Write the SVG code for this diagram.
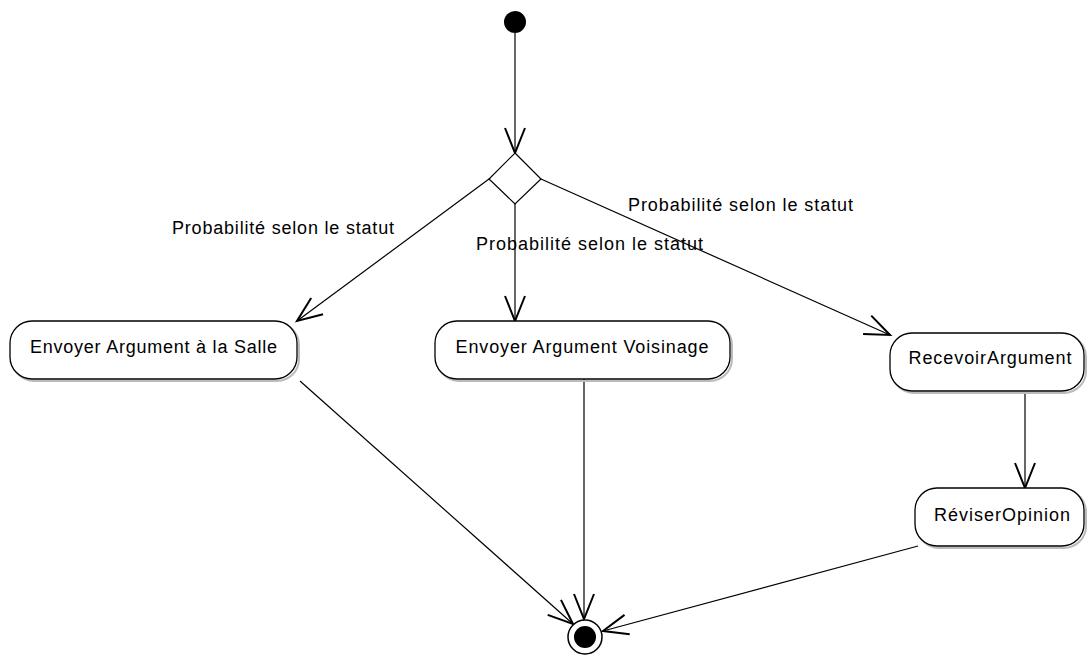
<svg xmlns="http://www.w3.org/2000/svg" width="1088" height="657" viewBox="0 0 1088 657">
<style>
.node{fill:#fff;stroke:#000;stroke-width:1.3}
.shadow{fill:none;stroke:#bbb;stroke-width:2}
.t{font-family:"Liberation Sans",Arial,sans-serif;font-size:18px;fill:#000}
.c{fill:none;stroke:#000;stroke-width:1.2}
</style>
<defs>
<marker id="arr" markerUnits="userSpaceOnUse" markerWidth="30" markerHeight="30" viewBox="-16 -8 18 16" refX="0" refY="0" orient="auto" overflow="visible">
<path d="M-15,-6 L0,0 L-15,6" fill="none" stroke="#000" stroke-width="1.2"/>
</marker>
</defs>
<rect width="1088" height="657" fill="#fff"/>
<g id="connectors">
<line class="c" x1="515" y1="33" x2="515" y2="153" marker-end="url(#arr)"/>
<line class="c" x1="489" y1="179" x2="297" y2="321" marker-end="url(#arr)"/>
<line class="c" x1="515" y1="204" x2="515" y2="321" marker-end="url(#arr)"/>
<line class="c" x1="541" y1="179" x2="890" y2="335" marker-end="url(#arr)"/>
<line class="c" x1="1025" y1="392" x2="1025" y2="488" marker-end="url(#arr)"/>
<line class="c" x1="300" y1="381" x2="573" y2="624" marker-end="url(#arr)"/>
<line class="c" x1="584" y1="379" x2="584" y2="619" marker-end="url(#arr)"/>
<line class="c" x1="918" y1="546" x2="603" y2="631" marker-end="url(#arr)"/>
<text class="t" x="172" y="234" textLength="222">Probabilité selon le statut</text>
<text class="t" x="476" y="250" textLength="227">Probabilité selon le statut</text>
<text class="t" x="628" y="211" textLength="225">Probabilité selon le statut</text>
</g>
<g id="initial">
<circle cx="515" cy="22" r="11" fill="#000"/>
</g>
<g id="decision">
<polygon points="515,153 541,179 515,204 489,179" fill="#fff" stroke="#000" stroke-width="1.2"/>
</g>
<g id="n_salle">
<rect class="shadow" x="12" y="323" width="287" height="58" rx="22"/>
<rect class="node" x="10" y="321" width="287" height="58" rx="22"/>
<text class="t" x="153.5" y="353" text-anchor="middle" textLength="247">Envoyer Argument à la Salle</text>
</g>
<g id="n_voisinage">
<rect class="shadow" x="437" y="323" width="295" height="58" rx="22"/>
<rect class="node" x="435" y="321" width="295" height="58" rx="22"/>
<text class="t" x="582" y="353" text-anchor="middle" textLength="253">Envoyer Argument Voisinage</text>
</g>
<g id="n_recevoir">
<rect class="shadow" x="892" y="335" width="194" height="58" rx="22"/>
<rect class="node" x="890" y="333" width="194" height="58" rx="22"/>
<text class="t" x="990" y="364" text-anchor="middle" textLength="163">RecevoirArgument</text>
</g>
<g id="n_reviser">
<rect class="shadow" x="917" y="490" width="169" height="58" rx="22"/>
<rect class="node" x="915" y="488" width="169" height="58" rx="22"/>
<text class="t" x="1002" y="521" text-anchor="middle" textLength="136">RéviserOpinion</text>
</g>
<g id="final">
<circle cx="585" cy="637" r="17" fill="#fff" stroke="#000" stroke-width="1.5"/>
<circle cx="585" cy="637" r="11" fill="#000"/>
</g>
</svg>
